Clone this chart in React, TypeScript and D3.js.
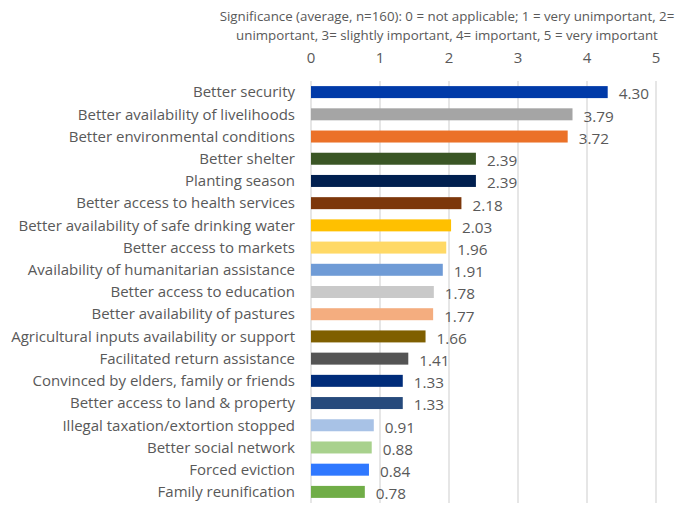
import React from "react";
import * as d3 from "d3";

const categories = [
  "Better security",
  "Better availability of livelihoods",
  "Better environmental conditions",
  "Better shelter",
  "Planting season",
  "Better access to health services",
  "Better availability of safe drinking water",
  "Better access to markets",
  "Availability of humanitarian assistance",
  "Better access to education",
  "Better availability of pastures",
  "Agricultural inputs availability or support",
  "Facilitated return assistance",
  "Convinced by elders, family or friends",
  "Better access to land & property",
  "Illegal taxation/extortion stopped",
  "Better social network",
  "Forced eviction",
  "Family reunification",
];

const values = [4.3, 3.79, 3.72, 2.39, 2.39, 2.18, 2.03, 1.96, 1.91, 1.78, 1.77, 1.66, 1.41, 1.33, 1.33, 0.91, 0.88, 0.84, 0.78];

const colors = [
  "#003AA8", "#A5A5A5", "#EB7128", "#3A5625", "#001F4F", "#7C370B", "#FFC000",
  "#FFD966", "#6F9BD6", "#C9C9C9", "#F4AD7F", "#7F5F00", "#545454", "#002C7A",
  "#264A7C", "#A8C2E6", "#A8D18D", "#2F78FF", "#70AD47",
];

const ticks = [0, 1, 2, 3, 4, 5];

const titleLines = [
  "Significance (average, n=160): 0 = not applicable; 1 = very unimportant, 2=",
  "unimportant, 3= slightly important, 4= important, 5 = very important",
];

export default function App() {
  const W = 690, H = 505;
  const x = d3.scaleLinear().domain([0, 5]).range([311, 656]);
  const y = d3.scaleBand().domain(categories).range([81, 503]).paddingInner(0.46).paddingOuter(0.23);
  const font = "'Open Sans', sans-serif";
  const txt = "#595959";
  return (
    <svg width={W} height={H} style={{ position: "absolute", left: 0, top: 0, background: "#fff" }} fontFamily={font}>
      {titleLines.map((t, i) => (
        <text key={i} x={447} y={21 + i * 19} textAnchor="middle" fontSize={13.3} fill={txt}>{t}</text>
      ))}
      {ticks.map((t) => (
        <g key={t}>
          <line x1={x(t)} x2={x(t)} y1={81} y2={503} stroke="#D9D9D9" strokeWidth={1.3} />
          <text x={x(t)} y={63} textAnchor="middle" fontSize={15} fill={txt}>{t}</text>
        </g>
      ))}
      {categories.map((c, i) => {
        const yy = y(c)!;
        const bw = y.bandwidth();
        return (
          <g key={c}>
            <rect x={x(0)} y={yy} width={x(values[i]) - x(0)} height={bw} fill={colors[i]} />
            <text x={295} y={yy + bw / 2} dy="0.35em" textAnchor="end" fontSize={15} fill={txt}>{c}</text>
            <text x={x(values[i]) + 11} y={yy + bw / 2 + 2} dy="0.35em" fontSize={15.3} fill={txt}>{values[i].toFixed(2)}</text>
          </g>
        );
      })}
    </svg>
  );
}
